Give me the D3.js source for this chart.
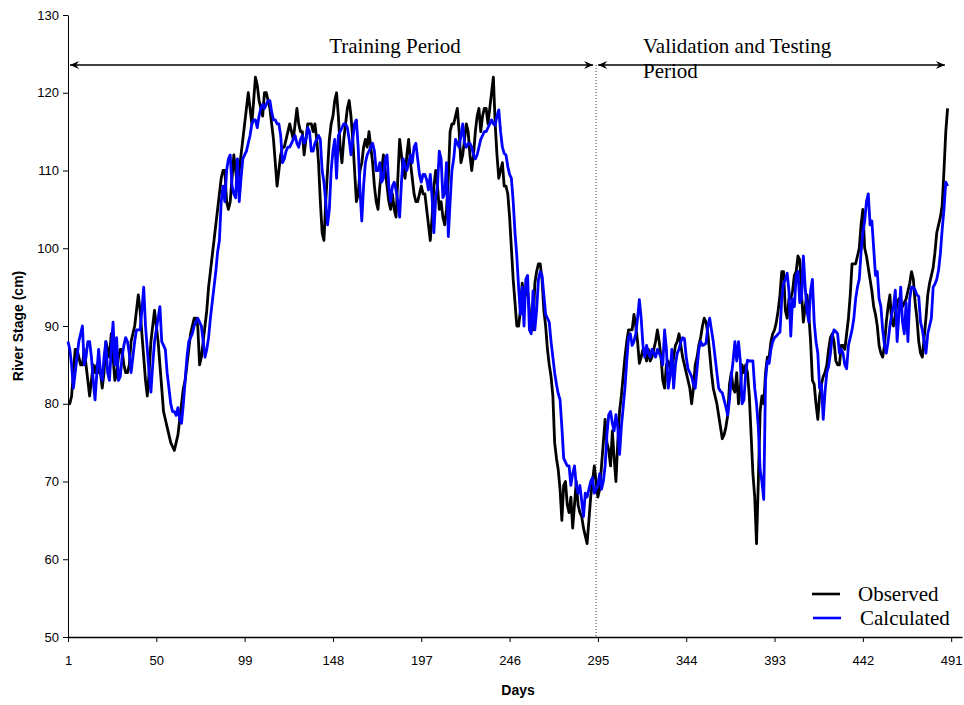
<!DOCTYPE html>
<html><head><meta charset="utf-8">
<script src="https://cdn.jsdelivr.net/npm/d3@7"></script>
<style>body{margin:0;background:#fff;} svg{display:block;}</style>
</head><body>
<svg id="chart" width="964" height="705"></svg>
<script>
const observed = [
80,80,81,84,87,87,86,85,85,87,
85,83,81,83,85,84,85,84,84,82,
84,88,87,86,89,86,83,84,86,87,
87,85,84,84,85,88,89,90,92,94,
92,89,86,83,81,84,88,90,92,90,
88,85,82,79,78,77,76,75,74.5,74,
75,76,78,80,82,83,85,87,89,90,
91,91,90,85,86,88,90,92,95,97,
99,101,103,105,107,109,110,110,106,105,
106,109,112,110,108,110,112,114,116,118,
120,118,116,119,122,121,119,118,117,120,
120,119,118,116,114,111,108,110,112,113,
113,114,115,116,115,114,116,118,116,115,
115,112,114,116,116,116,115,116,114,111,
106,102,101,106,110,114,116,117,119,120,
117,113,111,114,116,118,119,117,114,110,
106,107,110,111,113,114,113,115,113,111,
108,106,105,108,110,112,110,108,106,105,
107,105,104,109,114,112,110,109,112,114,
111,109,107,106,106,107,108,107,107,105,
103,101,104,108,110,108,105,106,104,103,
105,109,115,116,116,117,118,115,111,112,
114,116,115,112,110,112,115,117,118,115,
117,118,118,116,118,120,122,116,112,109,
110,111,108,108,107,104,100,96,93,90,
90,92,95.5,94,94,94.5,92,90,89.5,95.5,
97,98,98,96,92,90,87,85,83.5,81,
75,73,71.5,69,65,69.5,70,67,66,68,
64,67,70,67,66,65.5,64,63,62,65,
68,70,72,70,68,69,72,75,78,75,
74,72,76.5,73,70,75,79,81,83.5,86,
88,89.5,89.5,89.5,91.5,90,88,85.2,86,87,
86.5,85.5,87,85.5,86,87,88,89.5,88,86,
83,82,85,85.5,84.5,84,86,87.5,88,89,
87.5,86,85,84,83,82,80,82,85,86,
87.5,88.5,90,91,90.5,89,86.5,84,82,81,
80,78.5,77,75.5,76,77,78.5,82.5,84,82,
81.5,84,80,82,85,84,85,84,81,76,
71,68,62,70,79,81,80,84,86,86,
88,89,89.5,90.5,92,94,97,97,92,91,
93.5,93.5,94.5,96.5,97,99,98.5,94,90.5,92.5,
94,91.5,88,83,82.5,80,78,81,82.5,83.5,
84,85,87,88.5,89,88,85.5,85,85,87.5,
87.5,87,89,91,94,98,98,98,99,100,
103,105,100,99,97.5,96,94.5,92.5,91.5,90,
87.5,86.5,86,87.5,90.5,92.5,94,90.5,90,91.5,
93,93.5,93,92.5,93,93.5,94.5,95.5,97,96,
93,91,88,86.5,86,88.5,91,94,95.5,96.5,
97.5,99.5,102,103,104,105.5,110,115,118
];
const calculated = [
88,87,85,82,84,86,88,89,90,85,
86,88,88,86,83,80.5,84,87,84,83,
86,88,84,83,87,90.5,85,88.5,83,83.5,
86,87.5,88.5,88,86.5,84,86,88,89.5,89.5,
89.5,92,95,90,87,84,81.5,85,88,89.5,
91,92.5,88,87.5,87,84,82,80,79,79,
78.5,79.5,78,77.5,80,83,86,88,88.5,89,
90,90.5,91,90.5,90,88,86,87,88.5,91,
93,95,97,99.5,101,106,108,106,110,111.5,
112,108,107,106.5,111.5,106,109,111.5,112,112.5,
113.5,114.5,116,116.5,116.5,115.5,117,118,118.5,118,
118.5,119,119,117.5,116.5,116.5,116,116,114.5,111,
111.5,112.5,113,113,113.5,114,114.5,113.5,113,114,
114.5,113.5,114,115.5,115,112.5,112.5,113.5,114,114.5,
114,110,108.5,106,103,105,110,112.5,114,109,
114.5,115,115.5,116,116,115.5,114,112,114,116,
116.5,113,107.5,103.5,108,111,112,112.5,113,113.5,
112.5,110,110,111,108.5,109,111.5,112,108,106,
108,108.5,107.5,106,104,108.5,111.5,110.5,110,111,
112,111,113,113.5,111.5,109.5,108.5,109.5,109.5,108.8,
107.5,109.5,106.5,102,106.5,108,112.5,111.5,106.5,107,
111,101.5,106,110,111.5,114,113.5,113,114.5,116,
113.5,113,113.5,113.5,113,112,111.5,112,113,114,
114.5,115,115,115.5,116,116.5,116,115.8,117,117.8,
115,113,112.2,112,110.5,109.5,109,106,102,99,
95,91.5,95,90,96,96.5,89.5,89,94.5,89.5,
92,96,97,96.5,94,91.5,91,90.5,88,86,
84,82.5,81.3,80.5,77,73,72.5,72,72,69.5,
71,72,69.5,68.5,69.5,67.5,65.5,68.5,68,69,
70,70.5,68.5,69,69.5,71,69,70,72,76,
78.6,79,77.5,76.5,78.6,77,73.5,77,79.5,82,
85.5,88.5,89,87.5,88,89,91,93.4,91,87.5,
86,87.5,86.5,86,87,86.5,86,87,86.5,86,
85,89.5,87,82,83.5,87,82,85,86.5,87,
88,88.5,88.4,86,84.5,84,83.5,82.5,82,84.5,
87,88,87.5,87.6,87.8,90,91,89.5,88,86,
84,82,81.6,81.4,80.5,79.6,78.5,80.5,83.5,85.5,
88,85.5,88,85.5,80,80.5,84,85.6,85.5,85.5,
85.5,82,80,77,71.5,70,67.7,83,85.5,85.2,
87,88,88.5,88.7,89,89.2,93.5,95.5,96,96.8,
94.5,88.7,93.5,92.5,96.5,97,93,93.5,99,95,
92,90.5,94.5,96,90.5,88,86.5,82,82.5,78,
81.5,84,84.8,86.5,88.7,89.5,89.3,89,86.5,87,
86.5,85,84.5,87.5,88.5,89.5,91,93.5,95,96,
99.5,102,103.5,106,107,103,103.5,100,96.5,97,
93.5,92.5,89.5,87.5,86.5,88,90,91.5,92.5,94.6,
88,91.5,95,90.5,89,93,88,93.5,95,95,
94.6,94,93.8,90.5,89.5,88,86.5,89,90,91,
95,95.4,96,97.2,99.3,102.4,105,108.5,108
];
const xTickValues = [1,50,99,148,197,246,295,344,393,442,491];
const yTickValues = [50,60,70,80,90,100,110,120,130];
const seriesNames = ["Observed","Calculated"];
const seriesColors = ["#000000","#0000ff"];
const periodLabels = ["Training Period","Validation and Testing","Period"];
const splitDay = 294;
const periodEndDay = 487.5;
const xDomain = [1,497];
const yDomain = [50,130];

const svg = d3.select("#chart");
const x = d3.scaleLinear().domain(xDomain).range([68,962]);
const y = d3.scaleLinear().domain(yDomain).range([637,15]);
const sans = "'Liberation Sans', Arial, sans-serif";
const serif = "'Liberation Serif', 'Times New Roman', serif";

// axes
const yAxis = d3.axisLeft(y).tickValues(yTickValues).tickSize(5).tickSizeOuter(0).tickPadding(4);
const gy = svg.append("g").attr("transform","translate(68,0)").call(yAxis);
const xAxis = d3.axisBottom(x).tickValues(xTickValues).tickSize(5).tickSizeOuter(0).tickPadding(14);
const gx = svg.append("g").attr("transform","translate(0,637)").call(xAxis);
[gx,gy].forEach(g=>{
  g.selectAll("text").attr("font-family",sans).attr("font-size",13).attr("fill","#000");
  g.selectAll("line").attr("stroke","#000");
  g.select(".domain").attr("stroke","#000");
});
gx.select(".domain").attr("stroke-width",1.5);

// split dotted line
svg.append("line").attr("x1",x(splitDay)).attr("x2",x(splitDay))
  .attr("y1",65).attr("y2",637).attr("stroke","#333").attr("stroke-width",1)
  .attr("stroke-dasharray","1,2");

// series
const line = d3.line().x((d,i)=>x(i+1)).y(d=>y(d));
[observed,calculated].forEach((s,k)=>{
  svg.append("path").datum(s).attr("d",line).attr("fill","none")
    .attr("stroke",seriesColors[k]).attr("stroke-width",2.8).attr("stroke-linejoin","round");
});

// period arrows
function arrow(x0,x1,yy){
  svg.append("line").attr("x1",x0).attr("x2",x1).attr("y1",yy).attr("y2",yy)
    .attr("stroke","#000").attr("stroke-width",1.3);
  svg.append("path").attr("d",`M${x0},${yy}L${x0+9},${yy-4}L${x0+6},${yy}L${x0+9},${yy+4}Z`).attr("fill","#000");
  svg.append("path").attr("d",`M${x1},${yy}L${x1-9},${yy-4}L${x1-6},${yy}L${x1-9},${yy+4}Z`).attr("fill","#000");
}
arrow(x(1)+2, x(splitDay)-3, 65);
arrow(x(splitDay)+2, x(periodEndDay), 65);

svg.append("text").attr("x",395).attr("y",53).attr("text-anchor","middle")
  .attr("font-family",serif).attr("font-size",21).text(periodLabels[0]);
svg.append("text").attr("x",643).attr("y",53)
  .attr("font-family",serif).attr("font-size",21).text(periodLabels[1]);
svg.append("text").attr("x",643).attr("y",78)
  .attr("font-family",serif).attr("font-size",21).text(periodLabels[2]);

// legend
[0,1].forEach(k=>{
  const yy = 594 + k*24;
  svg.append("line").attr("x1",812+k).attr("x2",840+k).attr("y1",yy).attr("y2",yy)
    .attr("stroke",seriesColors[k]).attr("stroke-width",2.6);
  svg.append("text").attr("x",858+k*2).attr("y",yy+7)
    .attr("font-family",serif).attr("font-size",21).text(seriesNames[k]);
});

// axis titles
svg.append("text").attr("x",518).attr("y",695).attr("text-anchor","middle")
  .attr("font-family",sans).attr("font-weight","bold").attr("font-size",14).text("Days");
svg.append("text").attr("transform","translate(23,326) rotate(-90)").attr("text-anchor","middle")
  .attr("font-family",sans).attr("font-weight","bold").attr("font-size",14).text("River Stage (cm)");
</script>
</body></html>
